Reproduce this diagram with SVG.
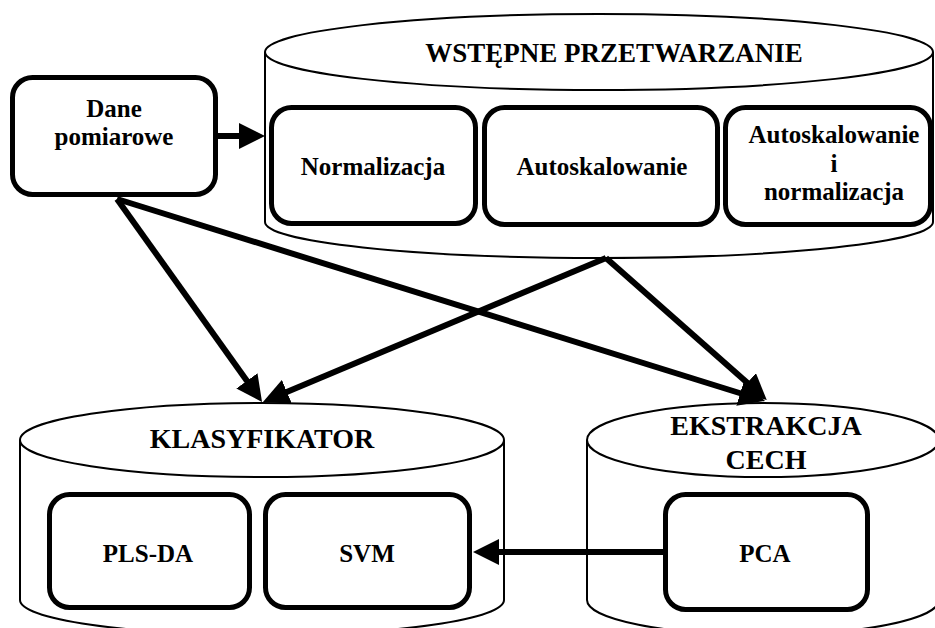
<svg xmlns="http://www.w3.org/2000/svg" width="935" height="628" viewBox="0 0 935 628" font-family="'Liberation Serif', 'Times New Roman', serif">
<style>
.cyl{fill:#fff;stroke:#000;stroke-width:2}
.box{fill:#fff;stroke:#000;stroke-width:5}
text{font-family:'Liberation Serif','Times New Roman',serif;font-weight:bold;font-size:25px;text-anchor:middle;fill:#000}
.h{font-size:28px}
.c{fill:none;stroke:#000;stroke-width:6}
</style>
<defs>
<marker id="ah" viewBox="0 0 26 26" refX="6" refY="13" markerWidth="26" markerHeight="26" markerUnits="userSpaceOnUse" orient="auto">
<path d="M0,0 L26,13 L0,26 Z" fill="#000"/>
</marker>
</defs>
<rect width="935" height="628" fill="#fff"/>

<g id="wstepne">
<path class="cyl" d="M265,52 L265,222 A334,36 0 0 0 933,222 L933,52"/>
<ellipse class="cyl" cx="599" cy="52" rx="334" ry="38"/>
<text x="614" y="62" style="font-size:27px">WSTĘPNE PRZETWARZANIE</text>
</g>
<g id="normalizacja">
<rect class="box" x="271.5" y="107.5" width="204" height="116" rx="20"/>
<text x="373" y="175">Normalizacja</text>
</g>
<g id="autoskalowanie">
<rect class="box" x="484.5" y="107.5" width="233" height="117" rx="20"/>
<text x="602" y="175">Autoskalowanie</text>
</g>
<g id="autoskal-norm">
<rect class="box" x="725.5" y="107.5" width="205" height="117" rx="20"/>
<text x="834" y="143">Autoskalowanie</text>
<text x="834" y="172">i</text>
<text x="834" y="200">normalizacja</text>
</g>

<g id="dane">
<rect class="box" x="12.5" y="77.5" width="203" height="117" rx="20"/>
<text x="114" y="117">Dane</text>
<text x="114" y="145">pomiarowe</text>
</g>

<g id="klasyfikator">
<path class="cyl" d="M20,440 L20,600 A242,35 0 0 0 504,600 L504,440"/>
<ellipse class="cyl" cx="262" cy="440" rx="242" ry="37"/>
<text class="h" x="262" y="448">KLASYFIKATOR</text>
</g>
<g id="plsda">
<rect class="box" x="49.5" y="494.5" width="200" height="113" rx="20"/>
<text x="148" y="562">PLS-DA</text>
</g>
<g id="svm">
<rect class="box" x="265.5" y="494.5" width="204" height="113" rx="20"/>
<text x="367" y="562">SVM</text>
</g>

<g id="ekstrakcja">
<path class="cyl" d="M587,440 L587,600 A176,35 0 0 0 939,600 L939,440"/>
<ellipse class="cyl" cx="763" cy="440" rx="176" ry="37"/>
<text class="h" x="766" y="435">EKSTRAKCJA</text>
<text class="h" x="766" y="469">CECH</text>
</g>
<g id="pca">
<rect class="box" x="665.5" y="494.5" width="202" height="115" rx="20"/>
<text x="765" y="562">PCA</text>
</g>

<g id="connectors">
<line class="c" x1="218" y1="136" x2="245" y2="136" marker-end="url(#ah)"/>
<line class="c" x1="663" y1="552" x2="493" y2="552" marker-end="url(#ah)"/>
<line class="c" x1="117" y1="199" x2="250.4" y2="385.7" marker-end="url(#ah)"/>
<line class="c" x1="606" y1="258" x2="281.4" y2="394.2" marker-end="url(#ah)"/>
<line class="c" x1="117" y1="199" x2="745.9" y2="395" marker-end="url(#ah)"/>
<line class="c" x1="606" y1="258" x2="751.8" y2="386.8" marker-end="url(#ah)"/>
</g>
</svg>
